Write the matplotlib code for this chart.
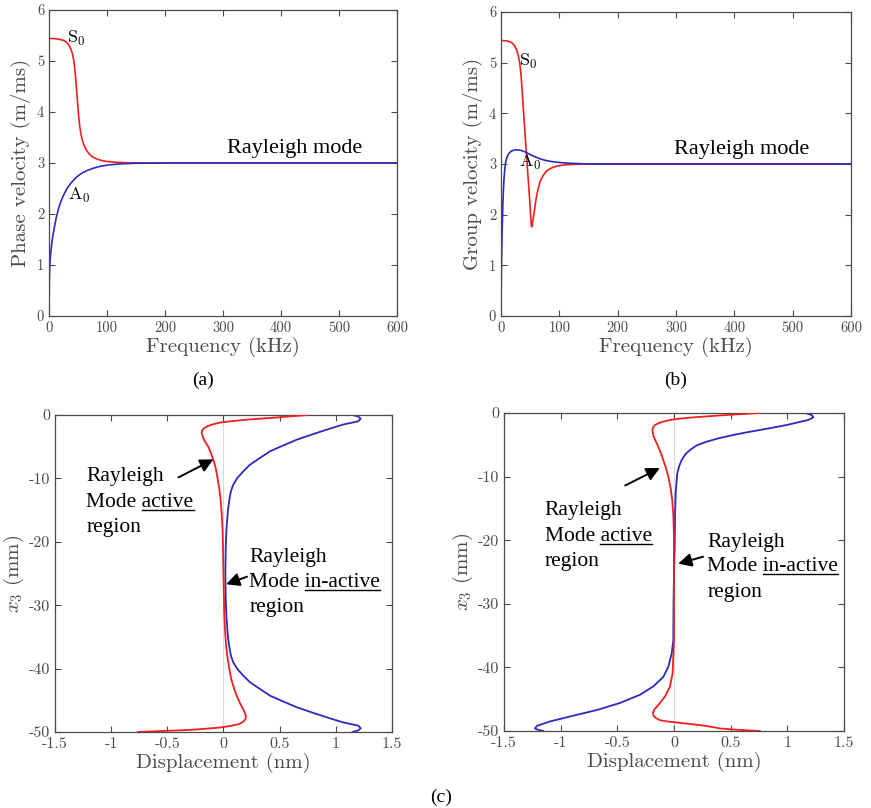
import matplotlib
matplotlib.use("agg")
import matplotlib.pyplot as plt
from matplotlib.lines import Line2D

plt.rcParams["mathtext.fontset"] = "cm"
plt.rcParams["axes.unicode_minus"] = False

# (a) phase velocity, kHz -> m/ms
s0_phase_f = [0, 10, 20, 26, 31, 35, 38, 40.5, 42, 43.5, 45, 46.5, 48, 49.5, 51, 52.5, 54.5, 57, 60, 64,
              69, 75, 82, 90, 100, 115, 135, 160, 600]
s0_phase_v = [5.44, 5.44, 5.42, 5.4, 5.36, 5.3, 5.22, 5.14, 5.05, 4.94, 4.78, 4.58, 4.36, 4.14, 3.93, 3.76,
              3.6, 3.46, 3.36, 3.26, 3.18, 3.12, 3.08, 3.05, 3.03, 3.015, 3.005, 3.0, 3.0]
a0_phase_f = [0, 0.2, 0.5, 1, 2, 3.5, 5, 7, 9.5, 12.5, 16, 20, 25, 31, 38, 46, 55, 65, 77, 90, 105, 125,
              150, 200, 600]
a0_phase_v = [0, 0.35, 0.65, 0.9, 1.12, 1.3, 1.45, 1.6, 1.76, 1.93, 2.09, 2.23, 2.37, 2.5, 2.61, 2.71, 2.79,
              2.85, 2.9, 2.94, 2.965, 2.985, 2.995, 3.0, 3.0]

# (b) group velocity
s0_group_f = [0, 10, 18, 23, 27, 30, 32, 34, 36, 38, 40, 42, 44, 46, 48, 50, 51.3, 52.3, 53.3, 55, 57.5,
              60, 63, 67, 72, 78, 86, 96, 110, 130, 160, 600]
s0_group_v = [5.44, 5.43, 5.4, 5.34, 5.25, 5.12, 5.0, 4.8, 4.5, 4.15, 3.8, 3.46, 3.12, 2.8, 2.48, 2.15,
              1.9, 1.76, 1.78, 1.9, 2.1, 2.3, 2.48, 2.65, 2.77, 2.86, 2.92, 2.96, 2.985, 2.995, 3.0, 3.0]
a0_group_f = [0, 0.4, 0.8, 1.3, 2, 3, 4, 5, 6.5, 8, 10, 13, 17, 22, 28, 34, 40, 48, 56, 65, 75, 86, 100,
              118, 140, 170, 600]
a0_group_v = [0.2, 0.6, 0.95, 1.3, 1.7, 2.12, 2.45, 2.68, 2.9, 3.04, 3.13, 3.2, 3.25, 3.275, 3.28, 3.27,
              3.245, 3.2, 3.155, 3.11, 3.075, 3.05, 3.03, 3.015, 3.005, 3.0, 3.0]

# (c) displacement profiles (nm) against depth x3 (mm), left panel
left_red_u = [0.755, 0.62, 0.5, 0.35, 0.2, 0.058, -0.03, -0.09, -0.14, -0.174, -0.19, -0.194, -0.188,
              -0.178, -0.16, -0.135, -0.112, -0.09, -0.07, -0.055, -0.038, -0.025, -0.014, -0.007, 0.0,
              0.007, 0.014, 0.025, 0.038, 0.055, 0.07, 0.09, 0.112, 0.135, 0.16, 0.178, 0.193, 0.2, 0.195,
              0.175, 0.132, 0.06, -0.03, -0.2, -0.33, -0.5, -0.62, -0.76]
left_red_x3 = [0, -0.18, -0.36, -0.55, -0.75, -1.0, -1.2, -1.45, -1.75, -2.1, -2.45, -2.8, -3.2, -3.7,
               -4.3, -5.0, -6.0, -7.1, -8.3, -9.7, -11.5, -13.4, -16, -18.7, -25, -31.3, -34, -36.6,
               -38.5, -40.3, -41.7, -42.9, -44.0, -45.0, -45.9, -46.5, -47.1, -47.6, -48.0, -48.4,
               -48.8, -49.05, -49.3, -49.55, -49.7, -49.82, -49.9, -50]
left_blue_u = [1.15, 1.2, 1.222, 1.2, 1.067, 0.948, 0.8, 0.652, 0.533, 0.414, 0.325, 0.236, 0.176, 0.123,
               0.087, 0.067, 0.055, 0.04, 0.027, 0.02, 0.017, 0.02, 0.027, 0.04, 0.055, 0.067, 0.087,
               0.123, 0.176, 0.236, 0.325, 0.414, 0.533, 0.652, 0.8, 0.948, 1.067, 1.2, 1.222, 1.2, 1.15]
left_blue_x3 = [0, -0.25, -0.58, -1.0, -1.5, -2.15, -3.0, -3.9, -4.8, -5.73, -6.78, -7.84, -8.9, -9.94,
                -11.0, -12.0, -13.1, -15, -18, -21, -25, -29, -32, -35, -36.9, -38.0, -39.0, -40.06,
                -41.1, -42.16, -43.22, -44.27, -45.2, -46.1, -47.0, -47.85, -48.5, -49.0, -49.42,
                -49.75, -50]

# right panel
right_red_u = [0.757, 0.62, 0.52, 0.38, 0.257, 0.15, 0.052, -0.03, -0.095, -0.14, -0.17, -0.185, -0.19,
               -0.187, -0.18, -0.162, -0.14, -0.118, -0.095, -0.072, -0.05, -0.03, -0.016, -0.006,
               -0.001, 0.0, 0.0, -0.012, -0.035, -0.08, -0.138, -0.172, -0.185, -0.182, -0.165, -0.124,
               -0.06, -0.006, 0.09, 0.17, 0.26, 0.347, 0.406, 0.55, 0.757]
right_red_x3 = [0, -0.15, -0.26, -0.42, -0.58, -0.72, -0.89, -1.08, -1.36, -1.63, -1.94, -2.3, -2.62,
                -3.1, -3.67, -4.4, -5.25, -6.2, -7.35, -8.6, -9.97, -11.8, -13.6, -16, -18.9, -25,
                -35.7, -40.9, -43.0, -44.6, -45.9, -46.6, -47.1, -47.5, -47.9, -48.3, -48.5, -48.6,
                -48.8, -48.95, -49.15, -49.4, -49.6, -49.8, -50]
right_blue_u = [1.156, 1.215, 1.23, 1.185, 1.1, 0.995, 0.88, 0.759, 0.64, 0.523, 0.4, 0.289, 0.2, 0.141,
                0.1, 0.068, 0.045, 0.029, 0.015, 0.009, 0.006, 0.0, -0.004, -0.006, -0.02, -0.05,
                -0.094, -0.183, -0.3, -0.477, -0.68, -0.89, -1.094, -1.21, -1.227, -1.2, -1.154]
right_blue_x3 = [0, -0.31, -0.68, -1.1, -1.45, -1.89, -2.28, -2.67, -3.05, -3.46, -3.95, -4.51, -5.1,
                 -5.82, -6.5, -7.39, -8.4, -9.49, -12.6, -16.3, -21.5, -25, -30, -35.7, -37.8, -39.9,
                 -41.5, -43.0, -44.3, -45.6, -46.7, -47.6, -48.5, -49.2, -49.6, -49.8, -50]

RED = "#f01e1e"
BLUE = "#2a2ac0"
GRAY = "#4a4a4a"
SERIF = "Liberation Serif"

fig = plt.figure(figsize=(8.71, 8.08), dpi=100)
ax_a = fig.add_axes([0.0563, 0.6089, 0.3995, 0.3787])
ax_b = fig.add_axes([0.5752, 0.6089, 0.4018, 0.3762])
ax_c1 = fig.add_axes([0.0631, 0.0941, 0.3869, 0.3923])
ax_c2 = fig.add_axes([0.5786, 0.0953, 0.3904, 0.3936])


def style(ax, tick_size):
    ax.tick_params(direction="in", top=True, right=True, length=4, width=0.8,
                   color=GRAY, labelcolor=GRAY, labelsize=tick_size)
    for sp in ax.spines.values():
        sp.set_color(GRAY)
        sp.set_linewidth(0.9)
    for lbl in ax.get_xticklabels() + ax.get_yticklabels():
        lbl.set_family("cmr10")


# top panels
ax_a.plot(s0_phase_f, s0_phase_v, color=RED, lw=1.2)
ax_a.plot(a0_phase_f, a0_phase_v, color=BLUE, lw=1.2)
ax_b.plot(s0_group_f, s0_group_v, color=RED, lw=1.2)
ax_b.plot(a0_group_f, a0_group_v, color=BLUE, lw=1.2)

for ax, ylab in [(ax_a, "Phase velocity (m/ms)"), (ax_b, "Group velocity (m/ms)")]:
    ax.set_xlim(0, 600)
    ax.set_ylim(0, 6)
    ax.set_xticks(range(0, 601, 100))
    ax.set_yticks(range(0, 7))
    style(ax, 10.5)
    ax.set_xlabel("Frequency (kHz)", family="cmr10", fontsize=15, color=GRAY, labelpad=2)
    ax.set_ylabel(ylab, family="cmr10", fontsize=15, color=GRAY, labelpad=4)

ax_a.text(307, 3.2, "Rayleigh mode", family=SERIF, fontsize=16, va="baseline")
ax_b.text(297, 3.2, "Rayleigh mode", family=SERIF, fontsize=16, va="baseline")
ax_a.text(31, 5.45, r"$\mathrm{S}_0$", fontsize=13, va="center")
ax_a.text(32, 2.37, r"$\mathrm{A}_0$", fontsize=13, va="center")
ax_b.text(31, 5.03, r"$\mathrm{S}_0$", fontsize=13, va="center")
ax_b.text(31, 3.04, r"$\mathrm{A}_0$", fontsize=13, va="center")

# bottom panels
ax_c1.plot(left_red_u, left_red_x3, color=RED, lw=1.3, zorder=3)
ax_c1.plot(left_blue_u, left_blue_x3, color=BLUE, lw=1.3, zorder=2)
ax_c2.plot(right_red_u, right_red_x3, color=RED, lw=1.3, zorder=3)
ax_c2.plot(right_blue_u, right_blue_x3, color=BLUE, lw=1.3, zorder=2)

for ax in (ax_c1, ax_c2):
    ax.axvline(0, color="#d8d8d8", lw=0.8, zorder=1)
    ax.set_xlim(-1.5, 1.5)
    ax.set_ylim(-50, 0)
    ax.set_xticks([-1.5, -1, -0.5, 0, 0.5, 1, 1.5])
    ax.set_xticklabels(["-1.5", "-1", "-0.5", "0", "0.5", "1", "1.5"])
    ax.set_yticks(range(-50, 1, 10))
    style(ax, 11.5)
    ax.set_xlabel("Displacement (nm)", family="cmr10", fontsize=15, color=GRAY, labelpad=2)
    ax.set_ylabel(r"$x_3$ (mm)", family="cmr10", fontsize=15, color=GRAY, labelpad=2)

arrow = dict(arrowstyle="-|>", color="k", lw=1.4, mutation_scale=20, shrinkA=0, shrinkB=0)
ax_c1.annotate("", xy=(-0.089, -7.0), xytext=(-0.40, -9.84), arrowprops=arrow)
ax_c1.annotate("", xy=(0.024, -26.7), xytext=(0.21, -25.5), arrowprops=arrow)
ax_c2.annotate("", xy=(-0.125, -8.66), xytext=(-0.43, -11.4), arrowprops=arrow)
ax_c2.annotate("", xy=(0.037, -23.7), xytext=(0.257, -22.6), arrowprops=arrow)

underlines = []


def label_block(ax, x, y_lines, word):
    ax.text(x, y_lines[0], "Rayleigh", family=SERIF, fontsize=15.5, va="baseline")
    t2 = ax.text(x, y_lines[1], "Mode " + word, family=SERIF, fontsize=15.5, va="baseline")
    ax.text(x, y_lines[2], "region", family=SERIF, fontsize=15.5, va="baseline")
    underlines.append((ax, t2, word, x, y_lines[1]))


label_block(ax_c1, -1.22, [-10.4, -14.5, -18.4], "active")
label_block(ax_c1, 0.23, [-23.2, -27.1, -31.05], "in-active")
label_block(ax_c2, -1.14, [-16.0, -20.2, -24.1], "active")
label_block(ax_c2, 0.295, [-21.0, -24.9, -28.9], "in-active")

fig.text(203 / 871, 1 - 380 / 808, "(a)", family=SERIF, fontsize=14, ha="center", va="center")
fig.text(676 / 871, 1 - 380 / 808, "(b)", family=SERIF, fontsize=14, ha="center", va="center")
fig.text(441 / 871, 1 - 797 / 808, "(c)", family=SERIF, fontsize=14, ha="center", va="center")

# underline the key word of each label
fig.canvas.draw()
renderer = fig.canvas.get_renderer()
to_fig = fig.transFigure.inverted()
for ax, t2, word, x, y in underlines:
    full = t2.get_window_extent(renderer)
    tmp = ax.text(x, y, word, family=SERIF, fontsize=15.5, va="baseline")
    w = tmp.get_window_extent(renderer).width
    tmp.remove()
    base = ax.transData.transform((x, y))[1] - 3
    p0 = to_fig.transform((full.x1 - w, base))
    p1 = to_fig.transform((full.x1, base))
    fig.add_artist(Line2D([p0[0], p1[0]], [p0[1], p1[1]], color="k", lw=1.0, transform=fig.transFigure))

fig.savefig("out.png", dpi=100)
